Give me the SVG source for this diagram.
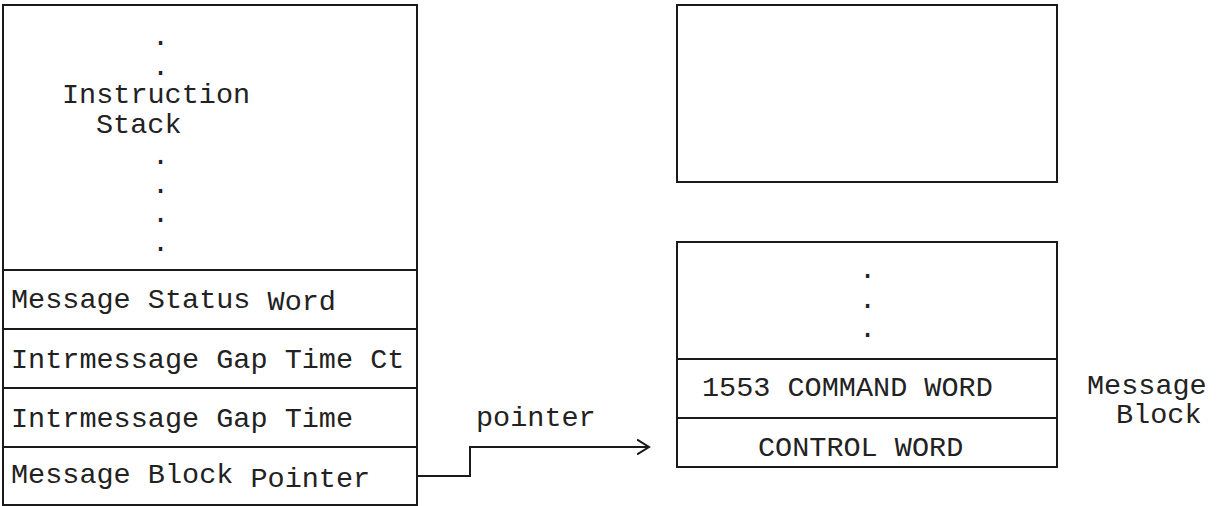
<svg xmlns="http://www.w3.org/2000/svg" width="1220" height="506" viewBox="0 0 1220 506">
  <style>
    .box { fill: #fff; stroke: #1a1a1a; stroke-width: 2; }
    .div { stroke: #1a1a1a; stroke-width: 2; fill: none; }
    .wire { stroke: #1a1a1a; stroke-width: 2; fill: none; }
    text { font-family: "Liberation Mono", "DejaVu Sans Mono", monospace; font-size: 28.5px; fill: #222; }
  </style>
  <defs>
    <marker id="chevron" viewBox="0 0 14 16" refX="12" refY="8" markerWidth="14" markerHeight="16" markerUnits="userSpaceOnUse" orient="auto">
      <path d="M0,0.5 L12,8 L0,15.5" fill="none" stroke="#1a1a1a" stroke-width="2"/>
    </marker>
  </defs>

  <!-- instruction stack with its control words -->
  <g id="instruction-stack">
    <rect class="box" x="3" y="5" width="414" height="500"/>
    <line class="div" x1="3" y1="270" x2="417" y2="270"/>
    <line class="div" x1="3" y1="329" x2="417" y2="329"/>
    <line class="div" x1="3" y1="388" x2="417" y2="388"/>
    <line class="div" x1="3" y1="447" x2="417" y2="447"/>
    <text><tspan x="152" y="45">.</tspan><tspan x="152" y="75">.</tspan><tspan x="62" y="103">Instruction</tspan><tspan x="96" y="133">Stack</tspan><tspan x="152" y="164">.</tspan><tspan x="152" y="193">.</tspan><tspan x="152" y="222">.</tspan><tspan x="152" y="251">.</tspan></text>
  </g>
  <g id="status-word">
    <text x="11" y="308">Message Status <tspan dy="2">Word</tspan></text>
  </g>
  <g id="gap-time-ct">
    <text x="11" y="368">Intrmessage Gap Time Ct</text>
  </g>
  <g id="gap-time">
    <text x="11" y="427">Intrmessage Gap Time</text>
  </g>
  <g id="block-pointer">
    <text x="11" y="483">Message Block <tspan dy="4">Pointer</tspan></text>
  </g>

  <!-- upper empty block -->
  <g id="upper-block">
    <rect class="box" x="677" y="5" width="380" height="177"/>
  </g>

  <!-- message block -->
  <g id="message-block">
    <rect class="box" x="677" y="242" width="380" height="225"/>
    <line class="div" x1="677" y1="359" x2="1057" y2="359"/>
    <line class="div" x1="677" y1="418" x2="1057" y2="418"/>
    <text><tspan x="859" y="278">.</tspan><tspan x="859" y="308">.</tspan><tspan x="859" y="337">.</tspan></text>
    <text x="702" y="396">1553 COMMAND WORD</text>
    <text x="758" y="456">CONTROL WORD</text>
  </g>
  <g id="message-block-label">
    <text><tspan x="1087" y="394">Message</tspan><tspan x="1116" y="423">Block</tspan></text>
  </g>

  <!-- pointer connector -->
  <g id="connectors">
    <polyline class="wire" points="417,476 470,476 470,447 649,447" marker-end="url(#chevron)"/>
    <text x="476" y="426">pointer</text>
  </g>
</svg>
